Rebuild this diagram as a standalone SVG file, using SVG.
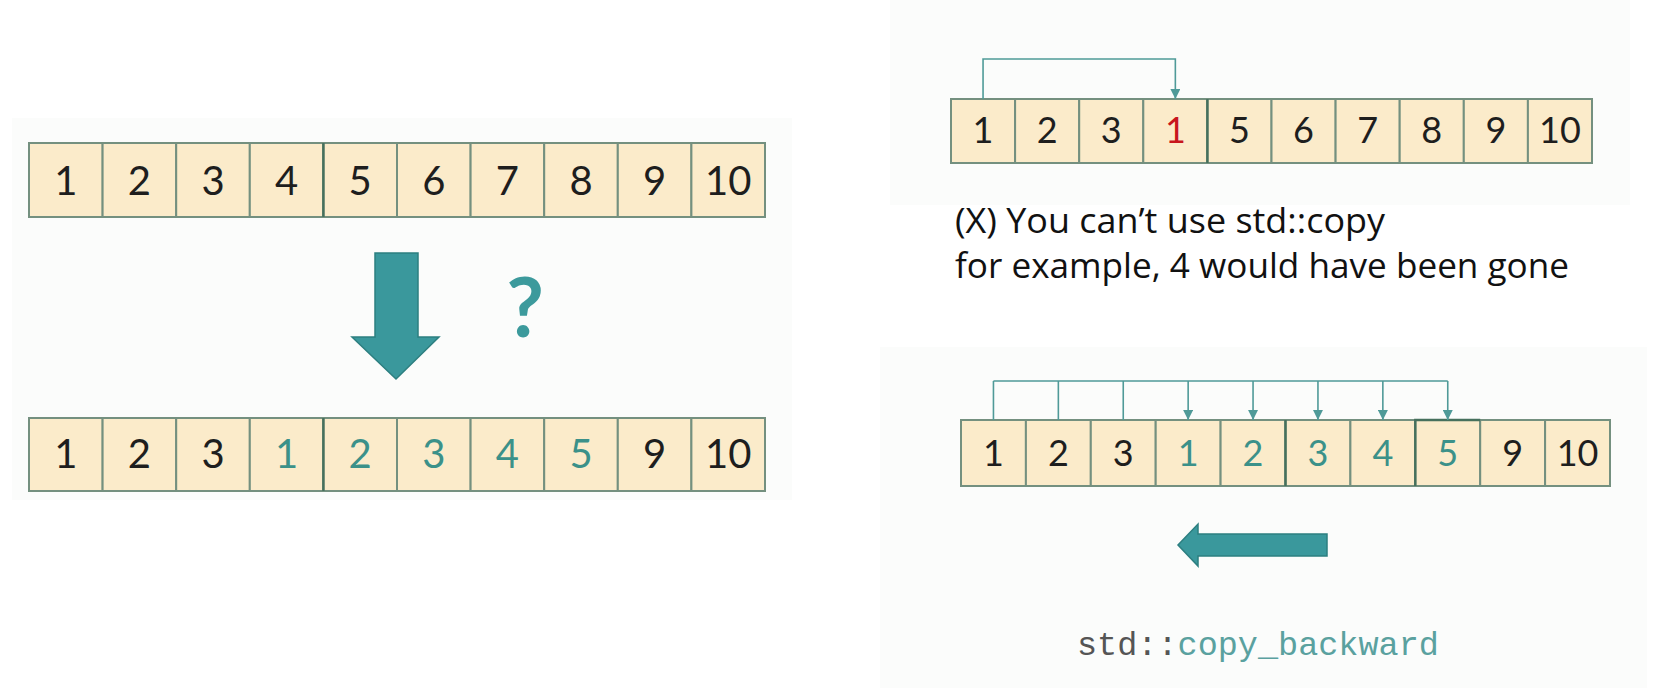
<svg xmlns="http://www.w3.org/2000/svg" width="1653" height="688" viewBox="0 0 1653 688">
<style>
.panel{fill:#fbfcfb}
.cell{fill:#fbebca;stroke:#74907f;stroke-width:2}
.dark{fill:none;stroke:#46705c;stroke-width:2.4}
.num{font-family:Lato,"Open Sans","Liberation Sans",sans-serif;text-anchor:middle;fill:#1e1e1e}
.big{font-size:40px}
.small{font-size:36px}
.teal{fill:#3b9189}
.red{fill:#c8161d}
.conn{stroke:#4f9a98;stroke-width:1.6;fill:none}
.arrow{fill:#3a989c;stroke:#2c7f80;stroke-width:1.5}
.note{font-family:"Open Sans",Lato,"Liberation Sans",sans-serif;font-size:35px;fill:#111}
.code{font-family:"Liberation Mono","DejaVu Sans Mono",monospace;font-size:33.5px}
</style>
<defs>
<marker id="ah" markerUnits="userSpaceOnUse" markerWidth="10" markerHeight="10" refX="10" refY="5" orient="auto">
<path d="M0,0 L10,5 L0,10 z" fill="#4f9a98"/>
</marker>
</defs>
<rect width="1653" height="688" fill="#ffffff"/>
<rect class="panel" x="12" y="118" width="780" height="382"/>
<rect class="panel" x="890" y="0" width="740" height="205"/>
<rect class="panel" x="880" y="347" width="767" height="341"/>

<!-- top-left array -->
<g id="arrA">
<g id="A1"><rect class="cell" x="29" y="143" width="73.6" height="74"/><text class="num big" x="65.8" y="195">1</text></g>
<g id="A2"><rect class="cell" x="102.6" y="143" width="73.6" height="74"/><text class="num big" x="139.4" y="195">2</text></g>
<g id="A3"><rect class="cell" x="176.2" y="143" width="73.6" height="74"/><text class="num big" x="213" y="195">3</text></g>
<g id="A4"><rect class="cell" x="249.8" y="143" width="73.6" height="74"/><text class="num big" x="286.6" y="195">4</text></g>
<g id="A5"><rect class="cell" x="323.4" y="143" width="73.6" height="74"/><text class="num big" x="360.2" y="195">5</text></g>
<g id="A6"><rect class="cell" x="397" y="143" width="73.6" height="74"/><text class="num big" x="433.8" y="195">6</text></g>
<g id="A7"><rect class="cell" x="470.6" y="143" width="73.6" height="74"/><text class="num big" x="507.4" y="195">7</text></g>
<g id="A8"><rect class="cell" x="544.2" y="143" width="73.6" height="74"/><text class="num big" x="581" y="195">8</text></g>
<g id="A9"><rect class="cell" x="617.8" y="143" width="73.6" height="74"/><text class="num big" x="654.6" y="195">9</text></g>
<g id="A10"><rect class="cell" x="691.4" y="143" width="73.6" height="74"/><text class="num big" x="728.2" y="195">10</text></g>
<line class="dark" x1="323.4" y1="143" x2="323.4" y2="217"/>
</g>

<!-- down arrow and question mark -->
<g id="downArrow"><path class="arrow" d="M375,253 L418,253 L418,337 L439,337 L396,379 L352,337 L375,337 Z"/></g>
<g id="question"><text x="525" y="337" font-family="Lato,'Open Sans',sans-serif" font-size="82" font-weight="bold" fill="#3c9a9c" text-anchor="middle">?</text></g>

<!-- bottom-left array -->
<g id="arrB">
<g id="B1"><rect class="cell" x="29" y="418" width="73.6" height="73"/><text class="num big" x="65.8" y="468">1</text></g>
<g id="B2"><rect class="cell" x="102.6" y="418" width="73.6" height="73"/><text class="num big" x="139.4" y="468">2</text></g>
<g id="B3"><rect class="cell" x="176.2" y="418" width="73.6" height="73"/><text class="num big" x="213" y="468">3</text></g>
<g id="B4"><rect class="cell" x="249.8" y="418" width="73.6" height="73"/><text class="num big teal" x="286.6" y="468">1</text></g>
<g id="B5"><rect class="cell" x="323.4" y="418" width="73.6" height="73"/><text class="num big teal" x="360.2" y="468">2</text></g>
<g id="B6"><rect class="cell" x="397" y="418" width="73.6" height="73"/><text class="num big teal" x="433.8" y="468">3</text></g>
<g id="B7"><rect class="cell" x="470.6" y="418" width="73.6" height="73"/><text class="num big teal" x="507.4" y="468">4</text></g>
<g id="B8"><rect class="cell" x="544.2" y="418" width="73.6" height="73"/><text class="num big teal" x="581" y="468">5</text></g>
<g id="B9"><rect class="cell" x="617.8" y="418" width="73.6" height="73"/><text class="num big" x="654.6" y="468">9</text></g>
<g id="B10"><rect class="cell" x="691.4" y="418" width="73.6" height="73"/><text class="num big" x="728.2" y="468">10</text></g>
<line class="dark" x1="323.4" y1="418" x2="323.4" y2="491"/>
</g>

<!-- top-right array -->
<g id="arrC">
<g id="C1"><rect class="cell" x="951" y="99" width="64.1" height="64"/><text class="num small" x="983.05" y="143">1</text></g>
<g id="C2"><rect class="cell" x="1015.1" y="99" width="64.1" height="64"/><text class="num small" x="1047.15" y="143">2</text></g>
<g id="C3"><rect class="cell" x="1079.2" y="99" width="64.1" height="64"/><text class="num small" x="1111.25" y="143">3</text></g>
<g id="C4"><rect class="cell" x="1143.3" y="99" width="64.1" height="64"/><text class="num small red" x="1175.35" y="143">1</text></g>
<g id="C5"><rect class="cell" x="1207.4" y="99" width="64.1" height="64"/><text class="num small" x="1239.45" y="143">5</text></g>
<g id="C6"><rect class="cell" x="1271.5" y="99" width="64.1" height="64"/><text class="num small" x="1303.55" y="143">6</text></g>
<g id="C7"><rect class="cell" x="1335.6" y="99" width="64.1" height="64"/><text class="num small" x="1367.65" y="143">7</text></g>
<g id="C8"><rect class="cell" x="1399.7" y="99" width="64.1" height="64"/><text class="num small" x="1431.75" y="143">8</text></g>
<g id="C9"><rect class="cell" x="1463.8" y="99" width="64.1" height="64"/><text class="num small" x="1495.85" y="143">9</text></g>
<g id="C10"><rect class="cell" x="1527.9" y="99" width="64.1" height="64"/><text class="num small" x="1559.95" y="143">10</text></g>
<line class="dark" x1="1207.4" y1="99" x2="1207.4" y2="163"/>
</g>

<!-- note text -->
<g id="note">
<text class="note" x="955" y="233" textLength="430" lengthAdjust="spacingAndGlyphs">(X) You can’t use std::copy</text>
<text class="note" x="955" y="278" textLength="614" lengthAdjust="spacingAndGlyphs">for example, 4 would have been gone</text>
</g>

<!-- bottom-right array -->
<g id="arrD">
<g id="D1"><rect class="cell" x="961" y="420" width="64.9" height="66"/><text class="num small" x="993.45" y="466">1</text></g>
<g id="D2"><rect class="cell" x="1025.9" y="420" width="64.9" height="66"/><text class="num small" x="1058.35" y="466">2</text></g>
<g id="D3"><rect class="cell" x="1090.8" y="420" width="64.9" height="66"/><text class="num small" x="1123.25" y="466">3</text></g>
<g id="D4"><rect class="cell" x="1155.7" y="420" width="64.9" height="66"/><text class="num small teal" x="1188.15" y="466">1</text></g>
<g id="D5"><rect class="cell" x="1220.6" y="420" width="64.9" height="66"/><text class="num small teal" x="1253.05" y="466">2</text></g>
<g id="D6"><rect class="cell" x="1285.5" y="420" width="64.9" height="66"/><text class="num small teal" x="1317.95" y="466">3</text></g>
<g id="D7"><rect class="cell" x="1350.4" y="420" width="64.9" height="66"/><text class="num small teal" x="1382.85" y="466">4</text></g>
<g id="D8"><rect class="cell" x="1415.3" y="420" width="64.9" height="66"/><text class="num small teal" x="1447.75" y="466">5</text></g>
<g id="D9"><rect class="cell" x="1480.2" y="420" width="64.9" height="66"/><text class="num small" x="1512.65" y="466">9</text></g>
<g id="D10"><rect class="cell" x="1545.1" y="420" width="64.9" height="66"/><text class="num small" x="1577.55" y="466">10</text></g>
<line class="dark" x1="1285.5" y1="420" x2="1285.5" y2="486"/>
<path class="dark" d="M1415.3,486 L1415.3,420 L1480.2,420"/>
</g>

<!-- left arrow -->
<g id="leftArrow"><path class="arrow" d="M1327,534 L1198,534 L1198,524 L1178,545 L1198,566 L1198,556 L1327,556 Z"/></g>

<!-- code label -->
<g id="codeLabel"><text class="code" x="1077" y="655"><tspan fill="#555555">std::</tspan><tspan fill="#5aa19f">copy_backward</tspan></text></g>

<!-- connectors -->
<g id="connectors">
<path class="conn" d="M983.05,99 L983.05,59 L1175.35,59 L1175.35,99" marker-end="url(#ah)"/>
<line class="conn" x1="993.45" y1="381" x2="1447.75" y2="381"/>
<line class="conn" x1="993.45" y1="381" x2="993.45" y2="420"/>
<line class="conn" x1="1058.35" y1="381" x2="1058.35" y2="420"/>
<line class="conn" x1="1123.25" y1="381" x2="1123.25" y2="420"/>
<line class="conn" x1="1188.15" y1="381" x2="1188.15" y2="420" marker-end="url(#ah)"/>
<line class="conn" x1="1253.05" y1="381" x2="1253.05" y2="420" marker-end="url(#ah)"/>
<line class="conn" x1="1317.95" y1="381" x2="1317.95" y2="420" marker-end="url(#ah)"/>
<line class="conn" x1="1382.85" y1="381" x2="1382.85" y2="420" marker-end="url(#ah)"/>
<line class="conn" x1="1447.75" y1="381" x2="1447.75" y2="420" marker-end="url(#ah)"/>
</g>
</svg>
